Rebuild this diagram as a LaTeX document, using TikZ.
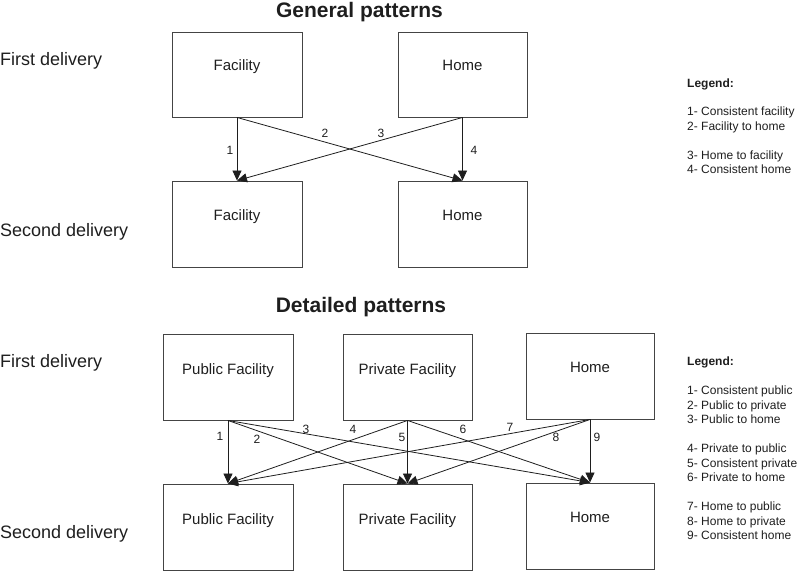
\documentclass[tikz,border=0pt]{standalone}
\usepackage{fontspec}
\setmainfont{Liberation Sans}
\usetikzlibrary{arrows.meta}
\definecolor{ink}{HTML}{1E1E1E}
\definecolor{boxline}{HTML}{444444}
\tikzset{
  box/.style={draw=boxline, line width=0.9pt, minimum width=130pt, minimum height=86pt, inner sep=0pt, text=ink},
  boxtext/.style={font=\fontsize{15}{18}\selectfont, text=ink, anchor=base, inner sep=0pt},
  rowtext/.style={font=\fontsize{18}{21}\selectfont, text=ink, anchor=base west, inner sep=0pt},
  titletext/.style={font=\bfseries\fontsize{21}{25}\selectfont, text=ink, anchor=base, inner sep=0pt},
  legtext/.style={font=\fontsize{12}{14}\selectfont, text=ink, anchor=base west, inner sep=0pt},
  legtitle/.style={font=\bfseries\fontsize{12}{14}\selectfont, text=ink, anchor=base west, inner sep=0pt},
  numtext/.style={font=\fontsize{12}{14}\selectfont, text=ink, inner sep=0pt},
  flow/.style={draw=ink, line width=0.8pt, -{Triangle[length=10pt,width=9pt]}}
}
\begin{document}
\begin{tikzpicture}[x=1pt,y=-1pt]
\useasboundingbox (0,0) rectangle (798,571);
% ---------- General patterns ----------
\node[titletext] (t1) at (359.5,17) {General patterns};
\node[rowtext] (r1) at (0,65) {First delivery};
\node[rowtext] (r2) at (0,236) {Second delivery};

\node[box, minimum height=85pt] (gf1) at (237,74.5) {};
\node[box, minimum height=85pt, minimum width=129pt] (gh1) at (462.5,74.5) {};
\node[box] (gf2) at (237,224) {};
\node[box, minimum width=129pt] (gh2) at (462.5,224) {};
\node[boxtext] (gf1t) at (237,70.5) {Facility};
\node[boxtext] (gh1t) at (462.5,70.5) {Home};
\node[boxtext] (gf2t) at (237,220.7) {Facility};
\node[boxtext] (gh2t) at (462.5,220.7) {Home};

\draw[flow] (gf1.south) -- (gf2.north);
\draw[flow] (gf1.south) -- (gh2.north);
\draw[flow] (gh1.south) -- (gf2.north);
\draw[flow] (gh1.south) -- (gh2.north);
\node[numtext] (g1) at (230,150) {1};
\node[numtext] (g2) at (325,133) {2};
\node[numtext] (g3) at (381,133) {3};
\node[numtext] (g4) at (474,150) {4};

\node[legtitle] (l1) at (687,87.5) {Legend:};
\node[legtext] (l1a) at (687,115.5) {1- Consistent facility};
\node[legtext] (l1b) at (687,130.3) {2- Facility to home};
\node[legtext] (l1c) at (687,159.3) {3- Home to facility};
\node[legtext] (l1d) at (687,173.6) {4- Consistent home};

% ---------- Detailed patterns ----------
\node[titletext] (t2) at (361,312) {Detailed patterns};
\node[rowtext] (r3) at (0,367) {First delivery};
\node[rowtext] (r4) at (0,538.5) {Second delivery};

\node[box] (dp1) at (228,377) {};
\node[box, minimum width=129pt] (dv1) at (407.5,377) {};
\node[box, minimum width=128pt] (dh1) at (590,376) {};
\node[box] (dp2) at (228,527) {};
\node[box, minimum width=129pt] (dv2) at (407.5,527) {};
\node[box, minimum width=128pt] (dh2) at (590,526) {};
\node[boxtext] (dp1t) at (228,374) {Public Facility};
\node[boxtext] (dv1t) at (407.5,374) {Private Facility};
\node[boxtext] (dh1t) at (590,372.5) {Home};
\node[boxtext] (dp2t) at (228,524) {Public Facility};
\node[boxtext] (dv2t) at (407.5,524) {Private Facility};
\node[boxtext] (dh2t) at (590,522.5) {Home};

\foreach \s in {dp1,dv1,dh1}{
  \foreach \t in {dp2,dv2,dh2}{
    \draw[flow] (\s.south) -- (\t.north);
  }
}
\node[numtext] (d1) at (220,436) {1};
\node[numtext] (d2) at (257,439) {2};
\node[numtext] (d3) at (306,429) {3};
\node[numtext] (d4) at (353,429) {4};
\node[numtext] (d5) at (402,437) {5};
\node[numtext] (d6) at (463,429) {6};
\node[numtext] (d7) at (510,427) {7};
\node[numtext] (d8) at (556,437) {8};
\node[numtext] (d9) at (597,437) {9};

\node[legtitle] (l2) at (687,365) {Legend:};
\node[legtext] (l2a) at (687,394.5) {1- Consistent public};
\node[legtext] (l2b) at (687,409) {2- Public to private};
\node[legtext] (l2c) at (687,423.5) {3- Public to home};
\node[legtext] (l2d) at (687,452.5) {4- Private to public};
\node[legtext] (l2e) at (687,467) {5- Consistent private};
\node[legtext] (l2f) at (687,481.5) {6- Private to home};
\node[legtext] (l2g) at (687,510.5) {7- Home to public};
\node[legtext] (l2h) at (687,525) {8- Home to private};
\node[legtext] (l2i) at (687,539.5) {9- Consistent home};
\end{tikzpicture}
\end{document}
